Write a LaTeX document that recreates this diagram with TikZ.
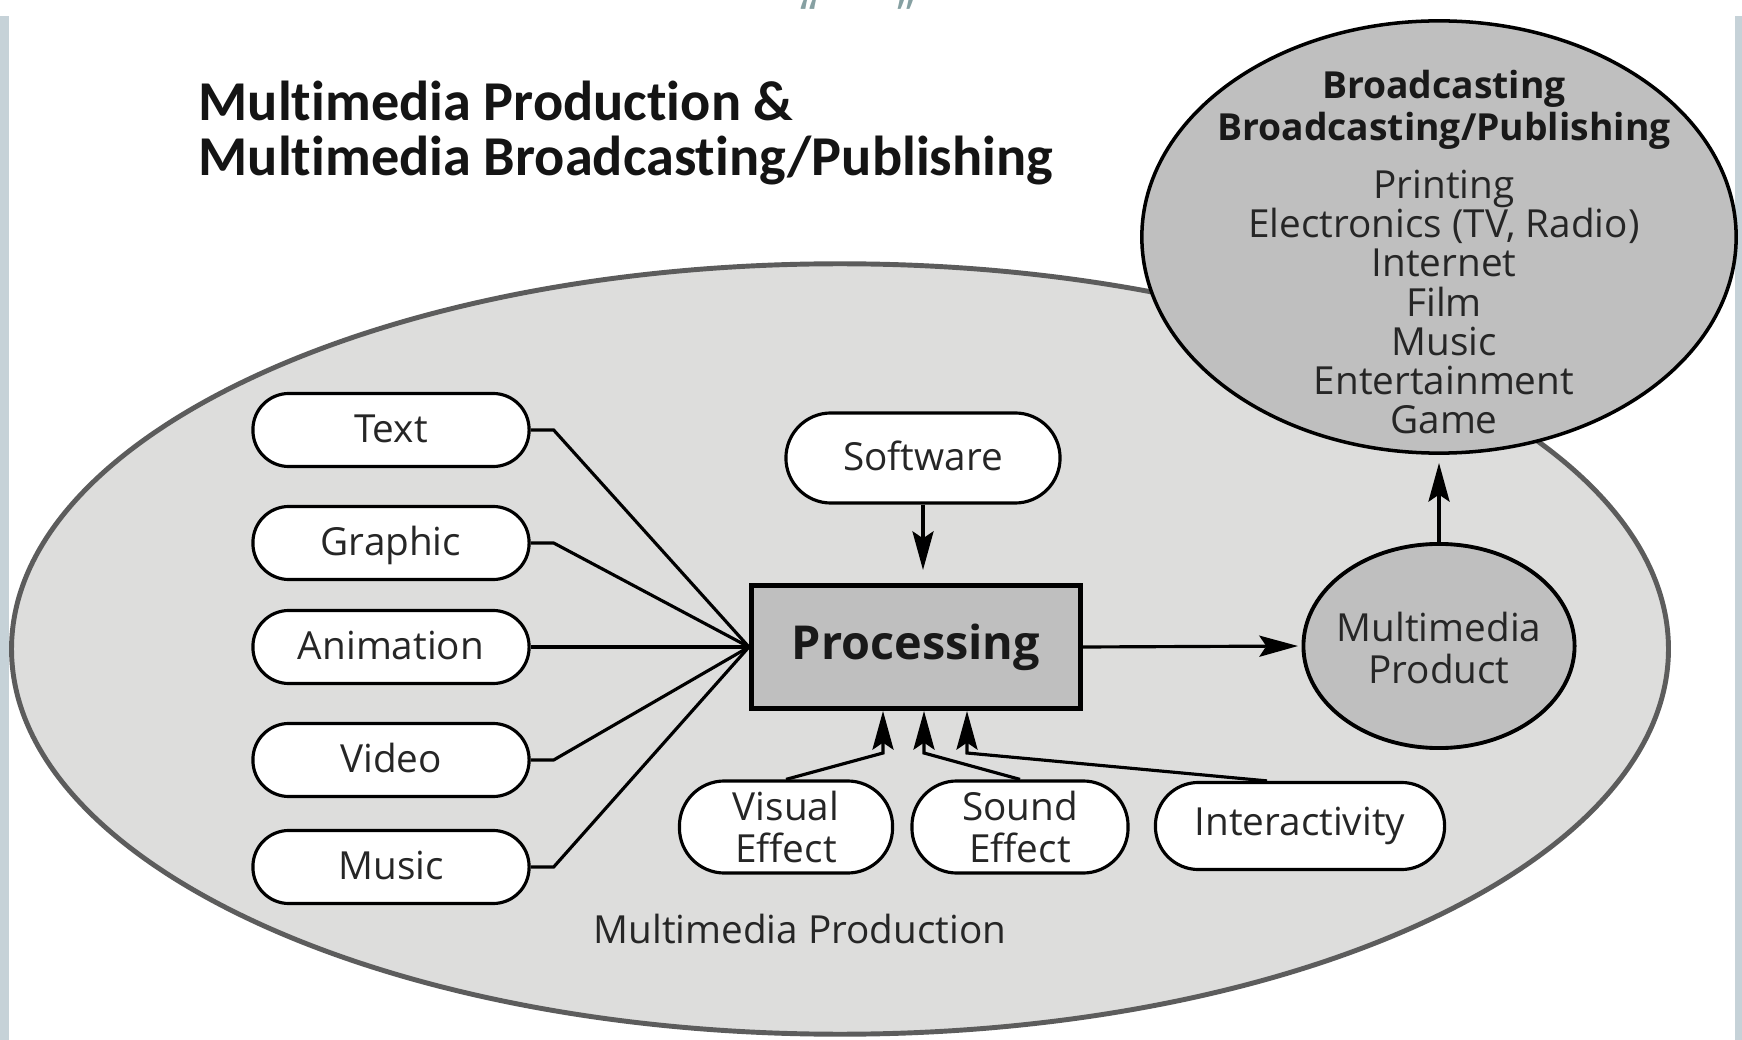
\documentclass[tikz,border=0pt]{standalone}
\usepackage{fontspec}
\setmainfont{Open Sans}
\newfontfamily\titlefont{Carlito}[Ligatures={NoCommon,NoContextual}]
\usetikzlibrary{arrows.meta, shapes.geometric}

\definecolor{edgegray}{HTML}{5C5C5C}
\definecolor{areagray}{HTML}{DDDDDC}
\definecolor{boxgray}{HTML}{BFBFBF}
\definecolor{stripblue}{HTML}{C6D2D8}
\definecolor{quotegray}{HTML}{86A0A2}

\tikzset{
  pill/.style={draw, line width=0.9pt, fill=white, inner sep=0pt, text=black!85,
    font=\fontsize{11}{11.7}\selectfont},
  media/.style={pill, rounded corners=3.6mm, minimum width=2.76cm, minimum height=0.73cm,
    text height=0.72em, text depth=0pt},
  effect/.style={pill, rounded corners=4.5mm, minimum height=0.92cm, align=center},
  blob/.style={ellipse, draw, line width=1.1pt, fill=boxgray, inner sep=0pt},
  feed/.style={line width=0.9pt},
  arr/.style={feed, -{Stealth[length=11pt, width=6pt, inset=2pt]}, shorten >=1pt},
}

\begin{document}
\begin{tikzpicture}[x=0.01cm, y=-0.01cm]
\useasboundingbox (0,0) rectangle (1742,1040);
\fill[white] (0,0) rectangle (1742,1040);
\fill[stripblue] (0,16) rectangle (9,1040);
\fill[stripblue] (1735,16) rectangle (1742,1040);
\node[quotegray, anchor=base, inner sep=0pt, font=\fontsize{14}{14}\selectfont] (quotes) at (858,33) {“\hspace{0.80cm}”};

\node[anchor=west, align=left, inner sep=0pt, text=black!92,
  font=\titlefont\bfseries\fontsize{16}{15.4}\selectfont] (title) at (198,133)
  {Multimedia Production \&\\Multimedia Broadcasting/Publishing};

\node[ellipse, draw=edgegray, line width=1.4pt, fill=areagray, inner sep=0pt,
  minimum width=16.56cm, minimum height=7.7cm] (area) at (840,649) {};
\node[text=black!85, font=\fontsize{11}{11.7}\selectfont] (arealabel) at (800,929) {Multimedia Production};

\node[blob, line width=1pt, minimum width=5.94cm, minimum height=4.32cm] (bcast) at (1439,237) {};
\node[align=center, text=black!90, font=\bfseries\fontsize{10.6}{12}\selectfont] (bcasthead) at (1444,110)
  {Broadcasting\\Broadcasting/Publishing};
\node[align=center, text=black!85, font=\fontsize{11}{11.1}\selectfont] (bcastlist) at (1444,302)
  {Printing\\Electronics (TV, Radio)\\Internet\\Film\\Music\\Entertainment\\Game};

\node[media] (text) at (391,430) {Text};
\node[media] (graphic) at (391,543) {Graphic};
\node[media] (anim) at (391,647) {Animation};
\node[media] (video) at (391,760) {Video};
\node[media] (music) at (391,867) {Music};

\node[media, rounded corners=4.5mm, minimum width=2.74cm, minimum height=0.9cm] (soft) at (923,458) {Software};
\node[draw, line width=1.4pt, fill=boxgray, minimum width=3.29cm, minimum height=1.23cm,
  text height=0.72em, text depth=0pt, font=\bfseries\fontsize{13.3}{14}\selectfont, text=black!90] (proc) at (916,647) {Processing};
\node[blob, minimum width=2.71cm, minimum height=2.04cm] (prod) at (1439,646) {};
\node[align=center, text=black!85, font=\fontsize{11}{11.7}\selectfont] (prodtxt) at (1439,648) {Multimedia\\Product};

\node[effect, minimum width=2.13cm] (vis) at (786,827) {Visual\\Effect};
\node[effect, minimum width=2.16cm] (snd) at (1020,827) {Sound\\Effect};
\node[effect, minimum width=2.89cm, minimum height=0.87cm, rounded corners=4.3mm] (inter) at (1300,826) {Interactivity};

\draw[feed] (text.east) -- ++(23,0) -- (proc.west);
\draw[feed] (graphic.east) -- ++(23,0) -- (proc.west);
\draw[feed] (anim.east) -- (proc.west);
\draw[feed] (video.east) -- ++(23,0) -- (proc.west);
\draw[feed] (music.east) -- ++(23,0) -- (proc.west);

\draw[arr, shorten >=3.7pt] (soft.south) -- (soft.south |- proc.north);
\draw[arr] (proc.east) -- (prod.west);
\draw[arr, shorten >=2.3pt] (prod.north) -- (prod.north |- bcast.south);

\coordinate (viskink) at (883,753);
\coordinate (sndkink) at (924,753);
\coordinate (intkink) at (967,753);
\draw[arr, shorten >=0pt] (vis.north) -- (viskink) -- (viskink |- proc.south);
\draw[arr, shorten >=0pt] (snd.north) -- (sndkink) -- (sndkink |- proc.south);
\draw[arr, shorten >=0pt] ([xshift=-0.33cm]inter.north) -- (intkink) -- (intkink |- proc.south);

\end{tikzpicture}
\end{document}
